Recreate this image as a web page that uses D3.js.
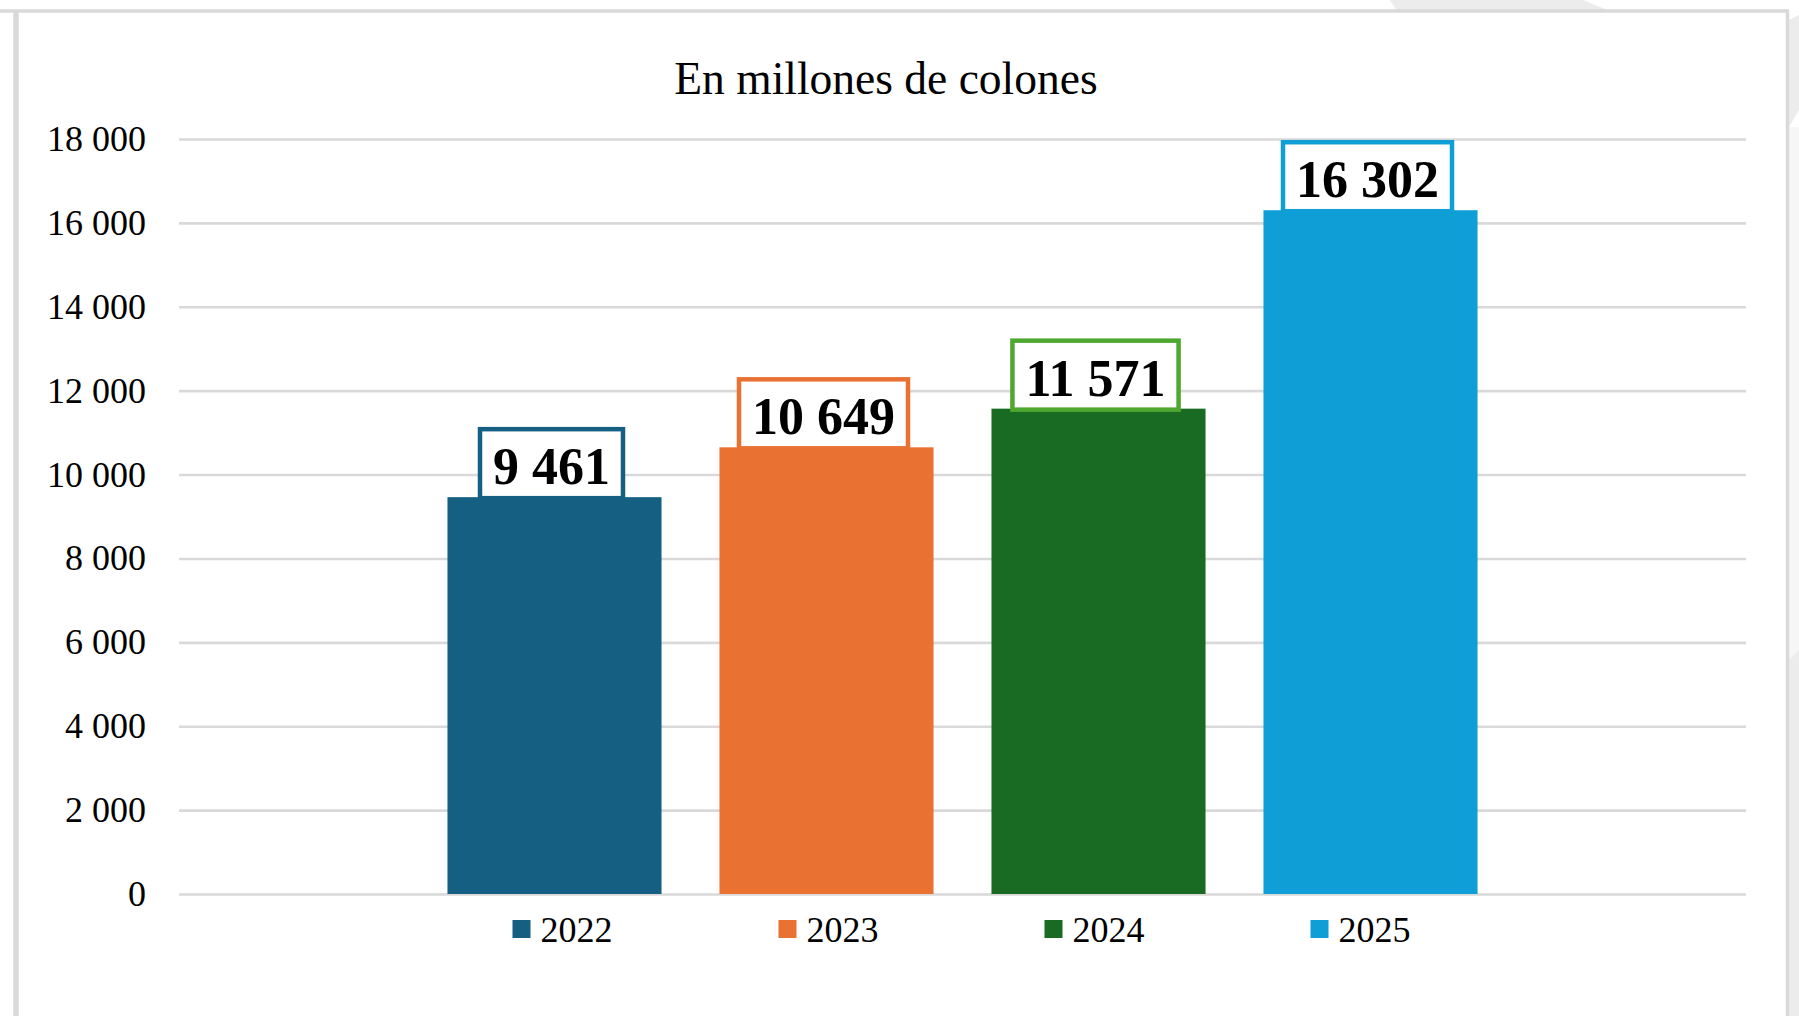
<!DOCTYPE html>
<html>
<head>
<meta charset="utf-8">
<script src="https://cdn.jsdelivr.net/npm/d3@7"></script>
<style>
  html, body { margin: 0; padding: 0; background: #ffffff; }
  svg { display: block; }
  text { font-family: "Liberation Serif", "Times New Roman", serif; fill: #000; }
</style>
</head>
<body>
<svg id="chart" width="1799" height="1016"></svg>
<script>
// ---- data ----
const categories = ["2022", "2023", "2024", "2025"];
const values = [9461, 10649, 11571, 16302];
const yTicks = [0, 2000, 4000, 6000, 8000, 10000, 12000, 14000, 16000, 18000];
const title = "En millones de colones";

// ---- styles ----
const barColors = ["#156082", "#E97132", "#196B24", "#0F9ED5"];
const labelBorderColors = ["#156082", "#E97132", "#4EA72E", "#0F9ED5"];

const W = 1799, H = 1016;
const plot = { left: 179, right: 1746, top: 139, bottom: 894 };

const svg = d3.select("#chart");

// background decorations (page frame)
svg.append("polygon").attr("points", "1390,0 1583,0 1610,11 1397,11").attr("fill", "#ececec");
svg.append("polygon").attr("points", "1789,20 1799,15 1799,110 1789,127").attr("fill", "#ececec");
svg.append("rect").attr("x", 1789).attr("y", 127).attr("width", 10).attr("height", 533).attr("fill", "#f6f6f6");
svg.append("polygon").attr("points", "1789,660 1799,650 1799,1016 1789,1016").attr("fill", "#ececec");

// chart frame
svg.append("line").attr("x1", 0).attr("x2", 1788).attr("y1", 11).attr("y2", 11)
  .attr("stroke", "#d9d9d9").attr("stroke-width", 3.5);
svg.append("line").attr("x1", 16).attr("x2", 16).attr("y1", 11).attr("y2", H)
  .attr("stroke", "#d9d9d9").attr("stroke-width", 5.5);
svg.append("line").attr("x1", 1787.5).attr("x2", 1787.5).attr("y1", 9.5).attr("y2", H)
  .attr("stroke", "#d9d9d9").attr("stroke-width", 3.5);

// scales
const x = d3.scaleBand().domain(categories).range([plot.left, plot.right])
  .paddingInner(0.213).paddingOuter(0.987);
const y = d3.scaleLinear().domain([0, 18000]).range([plot.bottom, plot.top]);

const locale = d3.formatLocale({ decimal: ",", thousands: " ", grouping: [3], currency: ["", ""] });
const fmt = locale.format(",d");

// title
svg.append("text").attr("x", 886).attr("y", 94).attr("text-anchor", "middle")
  .style("font-size", "45.5px").text(title);

// y axis with gridlines
const yAxis = d3.axisLeft(y).tickValues(yTicks).tickFormat(fmt)
  .tickSize(-(plot.right - plot.left)).tickPadding(33);
const gy = svg.append("g").attr("transform", `translate(${plot.left},0)`).call(yAxis);
gy.select(".domain").remove();
gy.selectAll(".tick line").attr("stroke", "#d9d9d9").attr("stroke-width", 2.6);
gy.selectAll(".tick text").style("font-size", "36px")
  .style("font-family", "'Liberation Serif', 'Times New Roman', serif").attr("fill", "#000");

// bars
svg.append("g").selectAll("rect").data(categories).join("rect")
  .attr("x", d => x(d))
  .attr("y", (d, i) => y(values[i]))
  .attr("width", x.bandwidth())
  .attr("height", (d, i) => y(0) - y(values[i]))
  .attr("fill", (d, i) => barColors[i]);

// data labels
const lg = svg.append("g");
categories.forEach((c, i) => {
  const cx = x(c) + x.bandwidth() / 2 - 3;
  const cy = y(values[i]) - 34;
  const g = lg.append("g");
  const t = g.append("text").attr("x", cx).attr("y", cy + 21).attr("text-anchor", "middle")
    .style("font-size", "52px").style("font-weight", "bold").text(fmt(values[i]));
  const tw = t.node().getComputedTextLength();
  g.insert("rect", "text")
    .attr("x", cx - (tw + 26) / 2).attr("y", cy - 34)
    .attr("width", tw + 26).attr("height", 69)
    .attr("fill", "#ffffff").attr("stroke", labelBorderColors[i]).attr("stroke-width", 4.5);
});

// legend
const legendSpacing = 266;
const legendCenter = (plot.left + plot.right) / 2;
const leg = svg.append("g");
const items = leg.selectAll("g").data(categories).join("g");
items.each(function (d, i) {
  const g = d3.select(this);
  g.append("rect").attr("width", 18).attr("height", 18).attr("y", 920).attr("fill", barColors[i]);
  g.append("text").attr("x", 28).attr("y", 942).style("font-size", "36px").text(d);
});
// position items: centre the whole legend block
const itemW = 102;
const totalW = legendSpacing * (categories.length - 1) + itemW;
const startX = legendCenter - totalW / 2;
items.attr("transform", (d, i) => `translate(${startX + i * legendSpacing},0)`);
</script>
</body>
</html>
